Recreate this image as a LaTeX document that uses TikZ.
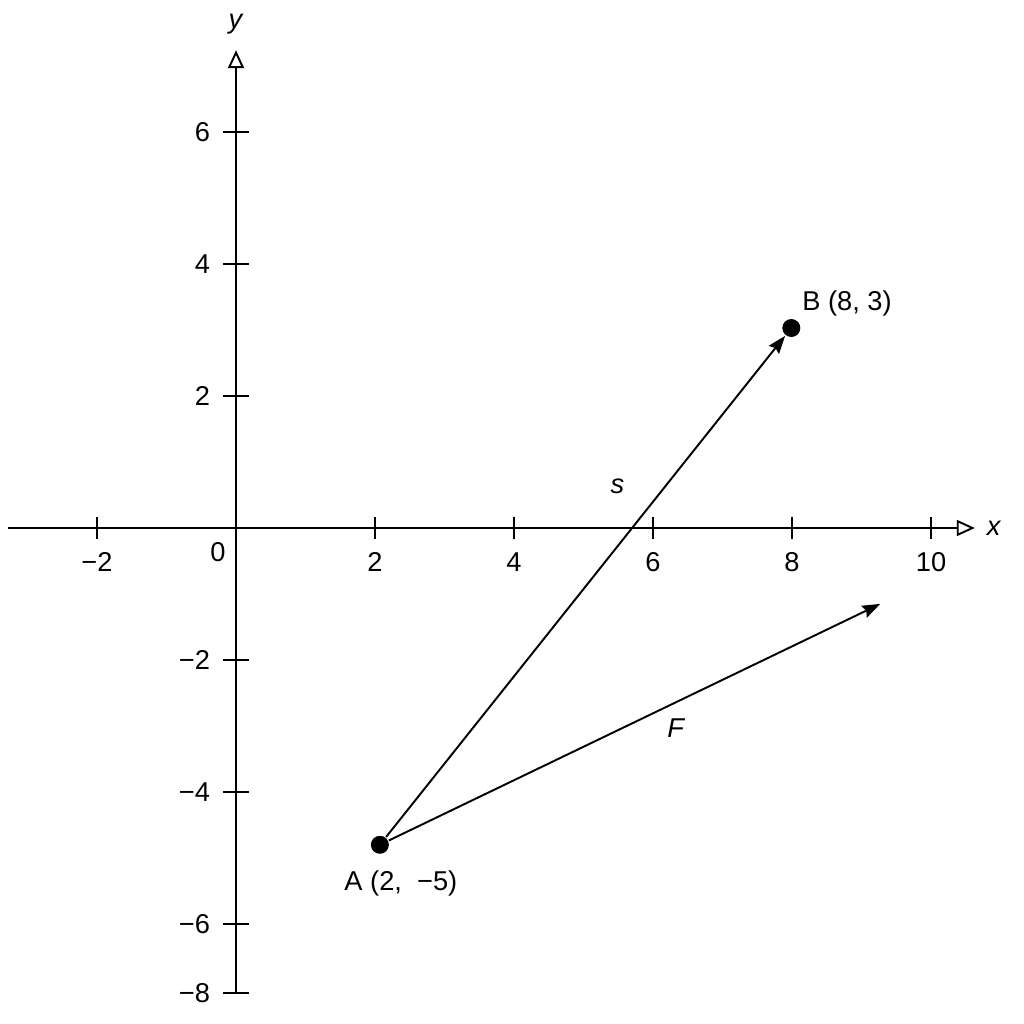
\documentclass[tikz,border=0pt]{standalone}
\usepackage{fontspec}
\setmainfont{Liberation Sans}
\usetikzlibrary{arrows.meta, positioning}

\begin{document}
\begin{tikzpicture}[x=1.39cm, y=1.32cm, line width=1.1pt,
    font=\fontsize{15.5}{18}\selectfont,
    every node/.style={inner sep=0pt},
    point/.style={circle, fill, inner sep=0pt, minimum size=0.36cm},
    axis/.style={-{Triangle[open, length=0.36cm, width=0.32cm]}},
    vector/.style={-{Stealth[length=0.36cm, width=0.26cm, inset=0.05cm]}}]
    \useasboundingbox (-3.396,-7.515) rectangle (11.338,8);

    % axes
    \draw[axis] (-3.28,0) -- (10.63,0) node[right=0.22cm] (xlab) {\textit{x}};
    \draw[axis] (0,-7.05) -- (0,7.24) node[above=0.3cm] (ylab) {\textit{y}};
    \node (zero) at (-0.26,-0.36) {0};

    % ticks
    \foreach \t/\lab in {-2/−2, 2/2, 4/4, 6/6, 8/8, 10/10} {
        \draw (\t,0.167) -- (\t,-0.167);
        \node (xt\t) at (\t,-0.515) {\lab};
    }
    \foreach \t/\lab in {6/6, 4/4, 2/2, -2/−2, -4/−4, -6/−6, -7.05/−8} {
        \draw (-0.187,\t) -- (0.187,\t);
        \node[anchor=east] (yt\t) at (-0.36,\t) {\lab};
    }

    % points and vectors
    \node[point] (A) at (2.07,-4.8) {};
    \node[point] (B) at (7.99,3.03) {};
    \coordinate (Ftip) at (9.27,-1.15);
    \node[below=0.3cm of A, xshift=0.42cm] (Alab) {A (2,~~−5)};
    \node[above right=0.08cm and 0.06cm of B] (Blab) {B (8, 3)};

    \draw
        (A) edge[vector] node[pos=0.7, xshift=-0.96cm] (slab) {\textit{s}} (B)
        (A) edge[vector] node[pos=0.585, yshift=-0.53cm] (Flab) {\textit{F}} (Ftip)
        ;
\end{tikzpicture}
\end{document}
